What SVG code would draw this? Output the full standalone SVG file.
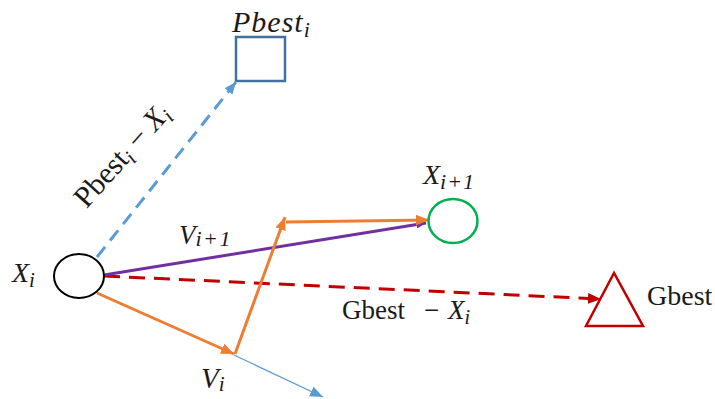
<svg xmlns="http://www.w3.org/2000/svg" width="715" height="399" viewBox="0 0 715 399">
<style>
  .lbl { font-family: "Liberation Serif", "Times New Roman", serif; fill: #1a1a1a; }
  .it { font-style: italic; }
  .conn { fill: none; stroke-width: 3; }
</style>
<defs>
  <marker id="aBlue" viewBox="0 0 12 10" refX="12" refY="5" markerWidth="12" markerHeight="10" markerUnits="userSpaceOnUse" orient="auto"><path d="M0,0 L12,5 L0,10 z" fill="#5B9BD5"/></marker>
  <marker id="aThin" viewBox="0 0 12 10" refX="12" refY="5" markerWidth="13" markerHeight="11" markerUnits="userSpaceOnUse" orient="auto"><path d="M0,0 L12,5 L0,10 z" fill="#5B9BD5"/></marker>
  <marker id="aOrange" viewBox="0 0 12 10" refX="12" refY="5" markerWidth="13" markerHeight="11" markerUnits="userSpaceOnUse" orient="auto"><path d="M0,0 L12,5 L0,10 z" fill="#ED7D31"/></marker>
  <marker id="aPurple" viewBox="0 0 12 10" refX="12" refY="5" markerWidth="10" markerHeight="8" markerUnits="userSpaceOnUse" orient="auto"><path d="M0,0 L12,5 L0,10 z" fill="#7030A0"/></marker>
  <marker id="aRed" viewBox="0 0 12 10" refX="12" refY="5" markerWidth="13" markerHeight="11" markerUnits="userSpaceOnUse" orient="auto"><path d="M0,0 L12,5 L0,10 z" fill="#C00000"/></marker>
</defs>

<g id="connectors">
  <line class="conn" x1="97" y1="257" x2="236" y2="82" stroke="#5B9BD5" stroke-dasharray="13,8" marker-end="url(#aBlue)"/>
  <line class="conn" x1="104" y1="276" x2="601" y2="299" stroke="#C00000" stroke-dasharray="16,9" marker-end="url(#aRed)"/>
  <line class="conn" x1="104" y1="275" x2="426" y2="223" stroke="#7030A0" marker-end="url(#aPurple)"/>
  <line x1="234" y1="355" x2="323" y2="397" stroke="#5B9BD5" stroke-width="1.3" marker-end="url(#aThin)"/>
  <line class="conn" x1="97" y1="293" x2="234" y2="354" stroke="#ED7D31" marker-end="url(#aOrange)"/>
  <line class="conn" x1="235" y1="354" x2="285" y2="217" stroke="#ED7D31" marker-end="url(#aOrange)"/>
  <line class="conn" x1="286" y1="222" x2="429" y2="220" stroke="#ED7D31" marker-end="url(#aOrange)"/>
</g>

<g id="node-xi">
  <ellipse cx="79" cy="276" rx="25" ry="22" fill="#ffffff" stroke="#000000" stroke-width="2"/>
  <text class="lbl it" x="12" y="282" font-size="28">X<tspan font-size="21" dy="5">i</tspan></text>
</g>

<g id="node-pbest">
  <rect x="236" y="37" width="49" height="44" fill="#ffffff" stroke="#41719C" stroke-width="2.5"/>
  <text class="lbl it" x="232" y="32" font-size="30" letter-spacing="1">Pbest<tspan font-size="22" dy="5">i</tspan></text>
</g>

<g id="node-xi1">
  <ellipse cx="453" cy="221" rx="24.5" ry="22" fill="#ffffff" stroke="#00B050" stroke-width="2.5"/>
  <text class="lbl it" x="423" y="184" font-size="28">X<tspan font-size="22" dy="5" letter-spacing="1">i+1</tspan></text>
</g>

<g id="node-gbest">
  <polygon points="614,273 586,326 643,326" fill="#ffffff" stroke="#C00000" stroke-width="2.5"/>
  <text class="lbl" x="647" y="305" font-size="28">Gbest</text>
</g>

<g id="labels">
  <text class="lbl" font-size="30" text-anchor="middle" transform="translate(129,162) rotate(-48)">Pbest<tspan class="it" font-size="21" dy="5">i</tspan><tspan dy="-5"> − </tspan><tspan class="it">X</tspan><tspan class="it" font-size="21" dy="5">i</tspan></text>
  <text class="lbl" x="179" y="244" font-size="27"><tspan class="it">V</tspan><tspan class="it" font-size="22" dy="2" letter-spacing="1.5">i+1</tspan></text>
  <text class="lbl it" x="201" y="388" font-size="29">V<tspan font-size="21" dy="3">i</tspan></text>
  <text class="lbl" x="342" y="319" font-size="27">Gbest</text>
  <text class="lbl" x="424" y="319" font-size="27">−</text>
  <text class="lbl it" x="448" y="319" font-size="27">X<tspan font-size="20" dy="5">i</tspan></text>
</g>
</svg>
